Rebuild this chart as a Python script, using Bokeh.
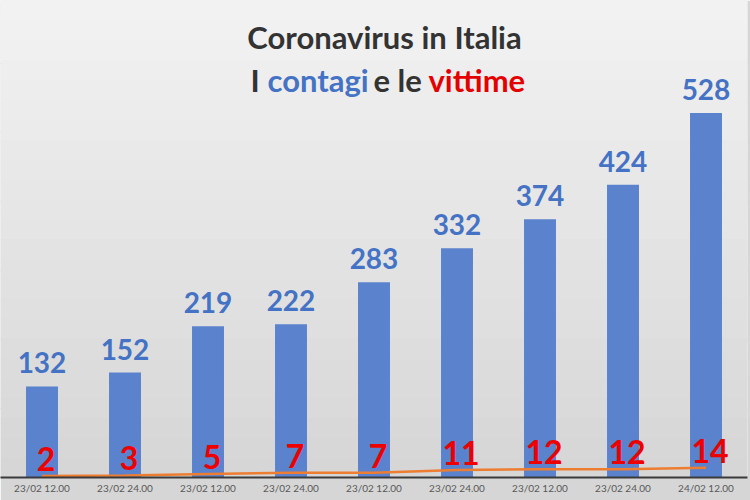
from bokeh.plotting import figure
from bokeh.models import FixedTicker, Label, LabelSet, BoxAnnotation, ColumnDataSource
from bokeh.core.properties import value
from bokeh.embed import file_html
from bokeh.resources import INLINE

# ---- data ----
labels = ["23/02 12.00", "23/02 24.00", "23/02 12.00", "23/02 24.00", "23/02 12.00",
          "23/02 24.00", "23/02 12.00", "23/02 24.00", "24/02 12.00"]
contagi = [132, 152, 219, 222, 283, 332, 374, 424, 528]
vittime = [2, 3, 5, 7, 7, 11, 12, 12, 14]
idx = list(range(len(labels)))

src = ColumnDataSource(dict(x=idx, c=contagi, v=vittime,
                            ct=[str(c) for c in contagi], vt=[str(v) for v in vittime]))

FONT = "Lato"
p = figure(width=750, height=500, output_backend="svg", toolbar_location=None,
           x_range=(-0.5, 8.5), y_range=(0, 691), y_axis_location=None,
           min_border_left=0, min_border_right=3, min_border_top=0, min_border_bottom=23)
p.outline_line_color = None
p.background_fill_color = "#e2e2e2"
p.border_fill_color = "#d6d6d6"

# vertical gradient-like background bands
top_c = (0xf2, 0xf2, 0xf2)
bot_c = (0xd6, 0xd6, 0xd6)
nb = 24
for i in range(nb):
    t = i / (nb - 1)
    col = tuple(int(round(top_c[k] + (bot_c[k] - top_c[k]) * t)) for k in range(3))
    hexc = "#%02x%02x%02x" % col
    p.add_layout(BoxAnnotation(top=691 - i * 691 / nb, bottom=691 - (i + 1) * 691 / nb - 1,
                               fill_color=hexc, fill_alpha=1, line_color=None, level="underlay"))

p.xgrid.grid_line_color = None
p.ygrid.grid_line_color = "#bcbcbc"
p.ygrid.grid_line_width = 1
p.ygrid.ticker = FixedTicker(ticks=[100, 200, 300, 400, 500, 600])

p.vbar(x="x", top="c", width=0.385, source=src, fill_color="#5b82cd", line_color=None)
p.line(x="x", y="v", source=src, line_color="#ed7d31", line_width=2.5)

p.add_layout(LabelSet(x="x", y="c", text="ct", source=src, text_align="center",
                      text_baseline="alphabetic", y_offset=13, text_font=value(FONT),
                      text_font_style="bold", text_font_size="28px", text_color="#4472c4"))
p.add_layout(LabelSet(x="x", y="v", text="vt", source=src, text_align="center",
                      text_baseline="alphabetic", x_offset=4, y_offset=5, text_font=value(FONT),
                      text_font_style="bold", text_font_size="32px", text_color="#ee0000"))

ax = p.xaxis[0]
ax.ticker = FixedTicker(ticks=idx)
ax.major_label_overrides = {i: l for i, l in enumerate(labels)}
ax.major_tick_line_color = None
ax.major_tick_out = 0
ax.major_tick_in = 0
ax.minor_tick_line_color = None
ax.minor_tick_out = 0
ax.axis_line_color = "#3a3a3a"
ax.axis_line_width = 2
ax.major_label_text_font = FONT
ax.major_label_text_font_size = "10px"
ax.major_label_text_color = "#595959"
ax.major_label_standoff = 4

# title
FH = 477
def lab(x, ytop, txt, color, align="left"):
    p.add_layout(Label(x=x, y=FH - ytop, x_units="screen", y_units="screen", text=txt,
                       text_font=FONT, text_font_style="bold", text_font_size="31px",
                       text_color=color, text_align=align, text_baseline="alphabetic"))

lab(384, 36, "Coronavirus in Italia", "#333333", "center")
lab(250, 79, "I", "#333333")
lab(267, 79, "contagi", "#4472c4")
lab(373, 79, "e le", "#333333")
lab(428, 79, "vittime", "#e50000")

open("out.html", "w").write(file_html(p, INLINE))
